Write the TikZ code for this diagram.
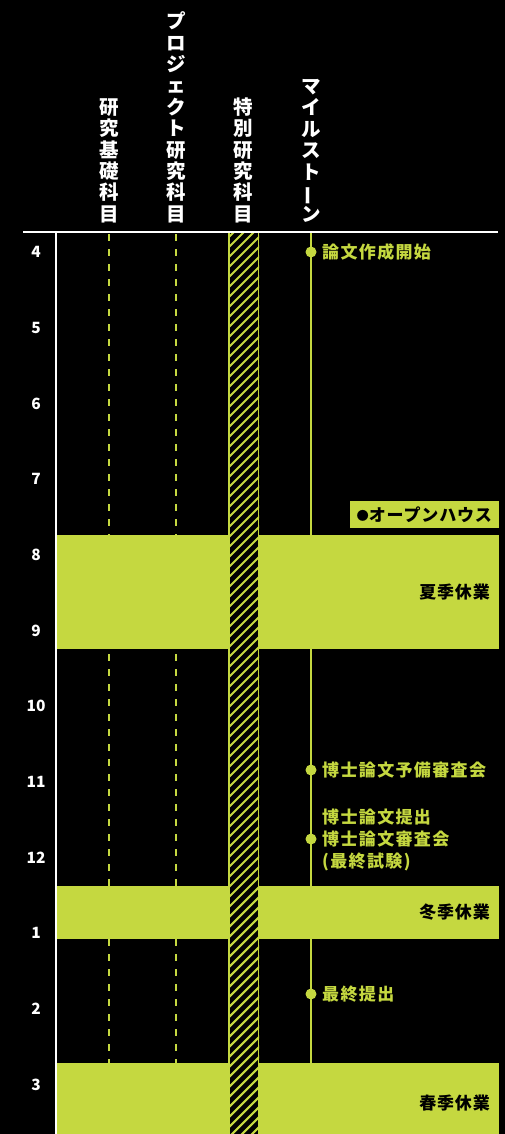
\documentclass[tikz,border=0pt]{standalone}
\usepackage{fontspec}
\setmainfont{Noto Sans CJK JP}
\newfontfamily\jpls{Noto Sans CJK JP}[LetterSpace=8]
\newfontfamily\jpbs{Noto Sans CJK JP}[LetterSpace=5]
\definecolor{lime}{RGB}{197,216,64}
\tikzset{
  hdr/.style={white, font=\bfseries\fontsize{19.5}{21.4}\selectfont, align=center, inner sep=0pt, anchor=south},
  mon/.style={white, font=\bfseries\fontsize{15.5}{18}\selectfont, inner sep=0pt},
  ms/.style={lime, font=\jpls\bfseries\fontsize{17}{22}\selectfont, anchor=west, inner sep=0pt, align=left},
  bandtxt/.style={black, font=\jpbs\bfseries\fontsize{17}{22}\selectfont, anchor=east, inner sep=0pt},
  band/.style={fill=lime},
  dashcol/.style={lime, line width=1.6pt, dash pattern=on 7pt off 8pt},
  msdot/.style={circle, fill=lime, minimum size=11pt, inner sep=0pt},
}
\newcommand{\vbar}{\smash{\rotatebox[origin=c]{90}{ー}}}
\begin{document}
\begin{tikzpicture}[x=1pt,y=-1pt]
\fill[black] (0,0) rectangle (505,1134);
\useasboundingbox (0,0) rectangle (505,1134);

% named coordinates
\coordinate (d1t) at (109,234); \coordinate (d1b) at (109,1134);
\coordinate (d2t) at (176,234); \coordinate (d2b) at (176,1134);
\coordinate (mst) at (311,232); \coordinate (msb) at (311,1134);

% dashed columns and milestone line
\draw[dashcol] (d1t) -- (d1b);
\draw[dashcol] (d2t) -- (d2b);
\draw[lime, line width=1.6pt] (mst) -- (msb);

% bands
\fill[band] (57,535) rectangle (499,649);
\fill[band] (57,886) rectangle (499,939);
\fill[band] (57,1063) rectangle (499,1134);

% hatched column
\fill[black] (228,232) rectangle (259,1134);
\begin{scope}
  \clip (228,232) rectangle (259,1134);
  \foreach \k in {0,...,95}
    \draw[lime, line width=2.1pt] (224,{232+\k*10}) -- (263,{232+\k*10-39});
\end{scope}
\draw[lime, line width=1.5pt] (228.75,232) -- (228.75,1134);
\draw[lime, line width=1.5pt] (258.25,232) -- (258.25,1134);

% axes
\coordinate (hl) at (23,232); \coordinate (hr) at (498,232);
\coordinate (vt) at (56.3,232); \coordinate (vb) at (56.3,1134);
\draw[white, line width=2pt] (hl) -- (hr);
\draw[white, line width=1.8pt] (vt) -- (vb);

% headers
\node[hdr] (h1) at (109,223) {研\\究\\基\\礎\\科\\目};
\node[hdr] (h2) at (176,223) {プ\\ロ\\ジ\\ェ\\ク\\ト\\研\\究\\科\\目};
\node[hdr] (h3) at (243,223) {特\\別\\研\\究\\科\\目};
\node[hdr] (h4) at (311,223) {マ\\イ\\ル\\ス\\ト\\\vbar\\ン};

% months
\foreach \m/\y [count=\i] in {4/252,5/327.7,6/403.4,7/479,8/554.8,9/630.5,10/706,11/782,12/857.6,1/933,2/1009,3/1085}
  \node[mon] (m\i) at (36,\y) {\m};

% milestones
\node[msdot] (p1) at (311,252) {};
\node[ms] (t1) at (322,252) {論文作成開始};
\node[msdot] (p2) at (311,770) {};
\node[ms] (t2) at (322,770) {博士論文予備審査会};
\node[msdot] (p3) at (311,839) {};
\node[ms] (t3) at (322,840) {博士論文提出\\博士論文審査会\\(最終試験)};
\node[msdot] (p4) at (311,994) {};
\node[ms] (t4) at (322,994) {最終提出};

% open house
\node[fill=lime, text=black, font=\jpbs\bfseries\fontsize{17}{20}\selectfont, minimum width=149pt, minimum height=27pt, inner sep=0pt, anchor=east] (oh) at (499,514.5) {\raisebox{0.5pt}{\scalebox{0.72}{●}}オープンハウス};

% band labels
\node[bandtxt] (b1) at (490,592) {夏季休業};
\node[bandtxt] (b2) at (490,912) {冬季休業};
\node[bandtxt] (b3) at (490,1103) {春季休業};
\end{tikzpicture}
\end{document}
